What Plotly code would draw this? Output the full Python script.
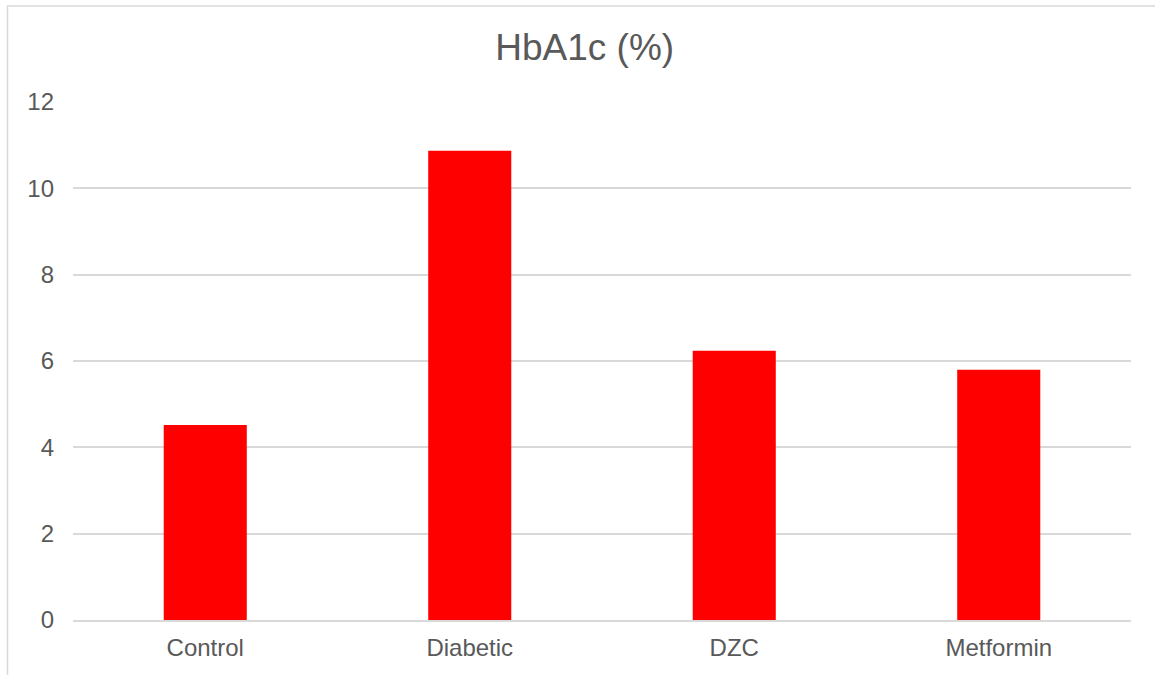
import plotly.graph_objects as go

# HbA1c by treatment group
groups = ["Control", "Diabetic", "DZC", "Metformin"]
hba1c = [4.52, 10.87, 6.24, 5.80]
y_ticks = [0, 2, 4, 6, 8, 10, 12]

W, H = 1155, 675
ML, MR, MT, MB = 73, 24, 102, 55
plot_w = W - ML - MR
plot_h = H - MT - MB

font_family = "Liberation Sans, Arial, sans-serif"
text_color = "#595959"
grid_color = "#d9d9d9"

fig = go.Figure(
    go.Bar(
        x=groups,
        y=hba1c,
        marker=dict(color="#ff0000", line=dict(width=0)),
    )
)

# outer chart frame (left/top edges visible)
def px_to_paper_x(px):
    return (px - ML) / plot_w

def px_to_paper_y(py):
    return (H - MB - py) / plot_h

fig.add_shape(
    type="rect",
    xref="paper", yref="paper",
    x0=px_to_paper_x(7.5), x1=px_to_paper_x(1170),
    y0=px_to_paper_y(690), y1=px_to_paper_y(6),
    line=dict(color=grid_color, width=1.5),
    fillcolor="rgba(0,0,0,0)",
    layer="below",
)

fig.update_layout(
    width=W,
    height=H,
    margin=dict(l=ML, r=MR, t=MT, b=MB, pad=0),
    paper_bgcolor="white",
    plot_bgcolor="white",
    font=dict(family=font_family, color=text_color, size=24),
    title=dict(
        text="HbA1c (%)",
        x=584.7 / W,
        xref="container",
        xanchor="center",
        y=1 - 47 / H,
        yref="container",
        yanchor="middle",
        font=dict(size=37, color=text_color, family=font_family),
    ),
    bargap=0.686,
    showlegend=False,
    xaxis=dict(
        showgrid=False,
        showline=True,
        linecolor=grid_color,
        linewidth=1.5,
        ticks="",
        tickfont=dict(size=24, color=text_color),
        ticklabelstandoff=5,
    ),
    yaxis=dict(
        range=[0, 12],
        tickvals=y_ticks,
        showgrid=True,
        gridcolor=grid_color,
        gridwidth=1.5,
        zeroline=False,
        showline=False,
        ticks="",
        tickfont=dict(size=24, color=text_color),
        ticklabelstandoff=18,
    ),
)

fig.write_html("out.html")
